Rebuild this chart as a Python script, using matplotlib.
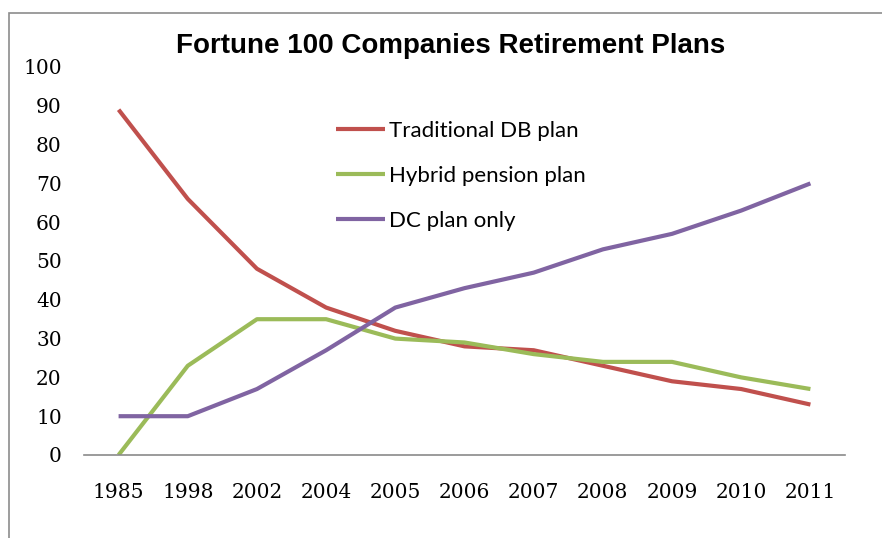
import matplotlib
matplotlib.use('Agg')
import matplotlib.pyplot as plt
from matplotlib.patches import Rectangle

years = ['1985', '1998', '2002', '2004', '2005', '2006', '2007', '2008', '2009', '2010', '2011']
traditional_db = [89, 66, 48, 38, 32, 28, 27, 23, 19, 17, 13]
hybrid_pension = [0, 23, 35, 35, 30, 29, 26, 24, 24, 20, 17]
dc_only = [10, 10, 17, 27, 38, 43, 47, 53, 57, 63, 70]
yticks = list(range(0, 101, 10))

colors = ['#C0504D', '#9BBB59', '#8064A2']
labels = ['Traditional DB plan', 'Hybrid pension plan', 'DC plan only']

W, H = 882, 538
fig = plt.figure(figsize=(W / 100, H / 100), dpi=100)
ax = fig.add_axes([84 / W, 1 - 455 / H, (845 - 84) / W, (455 - 67) / H])

x = range(len(years))
for series, c, lab in zip([traditional_db, hybrid_pension, dc_only], colors, labels):
    ax.plot(x, series, color=c, lw=3.0, label=lab, solid_capstyle='butt')

ax.set_xlim(-0.5, len(years) - 0.5)
ax.set_ylim(0, 100)
ax.set_yticks(yticks)
ax.set_xticks(list(x))
ax.set_xticklabels(years)

# Cambria-like tick labels
for t in ax.get_yticklabels() + ax.get_xticklabels():
    t.set_fontfamily(['DejaVu Serif'])
    t.set_fontsize(14.5)
ax.tick_params(axis='y', length=0, pad=16)
ax.tick_params(axis='x', length=0, pad=20)

for s in ['top', 'right', 'left']:
    ax.spines[s].set_visible(False)
ax.spines['bottom'].set_color('#8a8a8a')
ax.spines['bottom'].set_linewidth(1.2)

fig.text(451 / W, 1 - 46 / H, 'Fortune 100 Companies Retirement Plans',
         ha='center', va='center', fontsize=20, fontweight='bold',
         family=['Liberation Sans Narrow', 'Liberation Sans', 'DejaVu Sans'])

leg = ax.legend(loc='upper left', bbox_to_anchor=(336 / W, 1 - 121 / H),
                bbox_transform=fig.transFigure, frameon=False,
                prop={'family': ['Lato', 'DejaVu Sans'], 'size': 16},
                handlelength=2.2, handletextpad=0.2, labelspacing=1.12,
                borderpad=0, borderaxespad=0)

fig.add_artist(Rectangle((9 / W, -0.1), 1.0, 1.1 - 13 / H, transform=fig.transFigure,
                         fill=False, edgecolor='#8c8c8c', lw=1.2))

fig.savefig('out.png', dpi=100)
